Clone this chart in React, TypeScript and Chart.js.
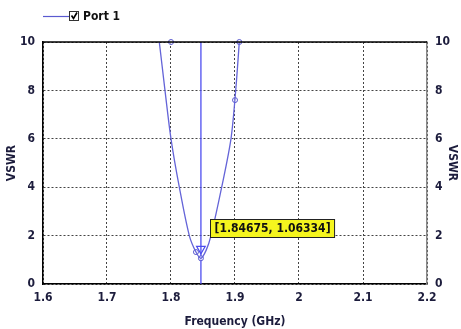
import React, { useEffect, useRef } from "react";
import { Chart, registerables } from "chart.js";

Chart.register(...registerables);

const xTicks = [1.6, 1.7, 1.8, 1.9, 2.0, 2.1, 2.2];
const yTicks = [0, 2, 4, 6, 8, 10];
const seriesName = "Port 1";
const freq = [1.777, 1.7817, 1.7906, 1.8, 1.813, 1.8286, 1.839, 1.84675, 1.855, 1.8625, 1.8792, 1.8937, 1.9011, 1.9067, 1.909];
const vswr = [11, 10, 8, 6, 4, 2, 1.32, 1.06334, 1.4, 2, 4, 6, 8, 10, 11];
const markerFreq = [1.8, 1.839, 1.84675, 1.9, 1.9067];
const markerVswr = [10, 1.32, 1.06334, 7.6, 10];
const cursorFreq = 1.84675;
const cursorVswr = 1.06334;
const cursorLabel = "[1.84675, 1.06334]";

const FONT = "'DejaVu Sans Condensed', 'Liberation Sans Narrow', 'Liberation Sans', Arial, sans-serif";
const TXT = "#1c1c3c";

const overlay = {
  id: "overlay",
  afterDraw(chart: any) {
    const { ctx, chartArea, scales } = chart;
    ctx.save();
    ctx.strokeStyle = "#000";
    ctx.lineWidth = 1.5;
    ctx.beginPath();
    ctx.moveTo(chartArea.left, chartArea.top);
    ctx.lineTo(chartArea.right, chartArea.top);
    ctx.stroke();
    // legend
    ctx.strokeStyle = "#5a5ad0";
    ctx.lineWidth = 1.2;
    ctx.beginPath();
    ctx.moveTo(43, 16.5);
    ctx.lineTo(69, 16.5);
    ctx.stroke();
    ctx.fillStyle = "#fff";
    ctx.fillRect(69.5, 11.5, 9, 9);
    ctx.strokeStyle = "#333";
    ctx.lineWidth = 1;
    ctx.strokeRect(69.5, 11.5, 9, 9);
    ctx.strokeStyle = "#000";
    ctx.lineWidth = 1.6;
    ctx.beginPath();
    ctx.moveTo(71.5, 15.5);
    ctx.lineTo(73.5, 18.5);
    ctx.lineTo(77, 12.5);
    ctx.stroke();
    ctx.fillStyle = "#111";
    ctx.font = `bold 12px ${FONT}`;
    ctx.textBaseline = "middle";
    ctx.textAlign = "left";
    ctx.fillText(seriesName, 83, 17);
    // cursor label
    const px = scales.x.getPixelForValue(cursorFreq);
    const py = scales.y.getPixelForValue(cursorVswr);
    ctx.font = `bold 12px ${FONT}`;
    const w = ctx.measureText(cursorLabel).width + 8;
    const bx = Math.round(px + 9) + 0.5;
    const by = Math.round(py - 39) + 0.5;
    ctx.fillStyle = "#f5f51e";
    ctx.fillRect(bx, by, w, 18);
    ctx.strokeStyle = "#222";
    ctx.lineWidth = 1;
    ctx.strokeRect(bx, by, w, 18);
    ctx.fillStyle = "#111";
    ctx.fillText(cursorLabel, bx + 4, by + 9.5);
    ctx.restore();
  },
};

export default function App() {
  const ref = useRef<HTMLCanvasElement>(null);
  useEffect(() => {
    const curve = freq.map((f, i) => ({ x: f, y: vswr[i] }));
    const marks = markerFreq.map((f, i) => ({ x: f, y: markerVswr[i] }));
    const gridOpts = {
      color: "#444",
      lineWidth: 1,
      drawTicks: false,
    };
    const chart = new Chart(ref.current!, {
      type: "scatter",
      data: {
        datasets: [
          {
            label: seriesName,
            data: curve,
            showLine: true,
            borderColor: "#6464d8",
            borderWidth: 1.3,
            pointRadius: 0,
            tension: 0.3,
          },
          {
            label: "markers",
            data: marks,
            showLine: false,
            pointRadius: 2.5,
            pointBackgroundColor: "rgba(255,255,255,0.6)",
            pointBorderColor: "#5a5ad0",
            pointBorderWidth: 1,
            clip: false,
          },
          {
            label: "cursor",
            data: [
              { x: cursorFreq, y: 0 },
              { x: cursorFreq, y: 10 },
            ],
            showLine: true,
            borderColor: "#4d4df0",
            borderWidth: 1.3,
            pointRadius: 0,
          },
          {
            label: "cursorMark",
            data: [{ x: cursorFreq, y: 1.45 }],
            showLine: false,
            pointStyle: "triangle",
            rotation: 180,
            pointRadius: 5,
            pointBackgroundColor: "rgba(0,0,0,0)",
            pointBorderColor: "#4d4df0",
            pointBorderWidth: 1.2,
          },
        ],
      } as any,
      options: {
        animation: false,
        responsive: false,
        maintainAspectRatio: false,
        layout: { padding: { top: 42, left: 0, right: 0, bottom: 0 } },
        plugins: { legend: { display: false }, tooltip: { enabled: false } },
        scales: {
          x: {
            type: "linear",
            min: 1.6,
            max: 2.2,
            afterBuildTicks: (s: any) => {
              s.ticks = xTicks.map((v) => ({ value: v }));
            },
            afterFit: (s: any) => {
              s.height = 45;
            },
            ticks: {
              callback: (v: any) => String(Number(Number(v).toFixed(1))),
              color: TXT,
              font: { family: FONT, size: 12, weight: "bold" },
              padding: 7,
              maxRotation: 0,
            },
            grid: gridOpts,
            border: { color: "#000", width: 1.5, dash: [2, 2] },
            title: {
              display: true,
              text: "Frequency (GHz)",
              color: TXT,
              font: { family: FONT, size: 12, weight: "bold" },
              padding: { top: 1, bottom: 0 },
            },
          } as any,
          y: {
            type: "linear",
            position: "left",
            min: 0,
            max: 10,
            afterBuildTicks: (s: any) => {
              s.ticks = yTicks.map((v) => ({ value: v }));
            },
            afterFit: (s: any) => {
              s.width = 43;
            },
            ticks: {
              color: TXT,
              font: { family: FONT, size: 12, weight: "bold" },
              padding: 8,
            },
            grid: gridOpts,
            border: { color: "#000", width: 1.5, dash: [2, 2] },
            title: {
              display: true,
              text: "VSWR",
              color: TXT,
              font: { family: FONT, size: 12, weight: "bold" },
              padding: { top: 5, bottom: 2 },
            },
          } as any,
          y2: {
            type: "linear",
            position: "right",
            min: 0,
            max: 10,
            afterBuildTicks: (s: any) => {
              s.ticks = yTicks.map((v) => ({ value: v }));
            },
            afterFit: (s: any) => {
              s.width = 34;
            },
            ticks: {
              color: TXT,
              font: { family: FONT, size: 12, weight: "bold" },
              padding: 8,
            },
            grid: { display: false, drawTicks: false },
            border: { color: "#888", width: 1.5 },
            title: {
              display: true,
              text: "VSWR",
              color: TXT,
              font: { family: FONT, size: 12, weight: "bold" },
              padding: { top: 2, bottom: 0 },
            },
          } as any,
        },
      },
      plugins: [overlay],
    });
    return () => chart.destroy();
  }, []);
  return (
    <div style={{ position: "fixed", left: 0, top: 0, width: 461, height: 329, background: "#fff" }}>
      <canvas ref={ref} width={461} height={329} style={{ width: 461, height: 329 }} />
    </div>
  );
}
